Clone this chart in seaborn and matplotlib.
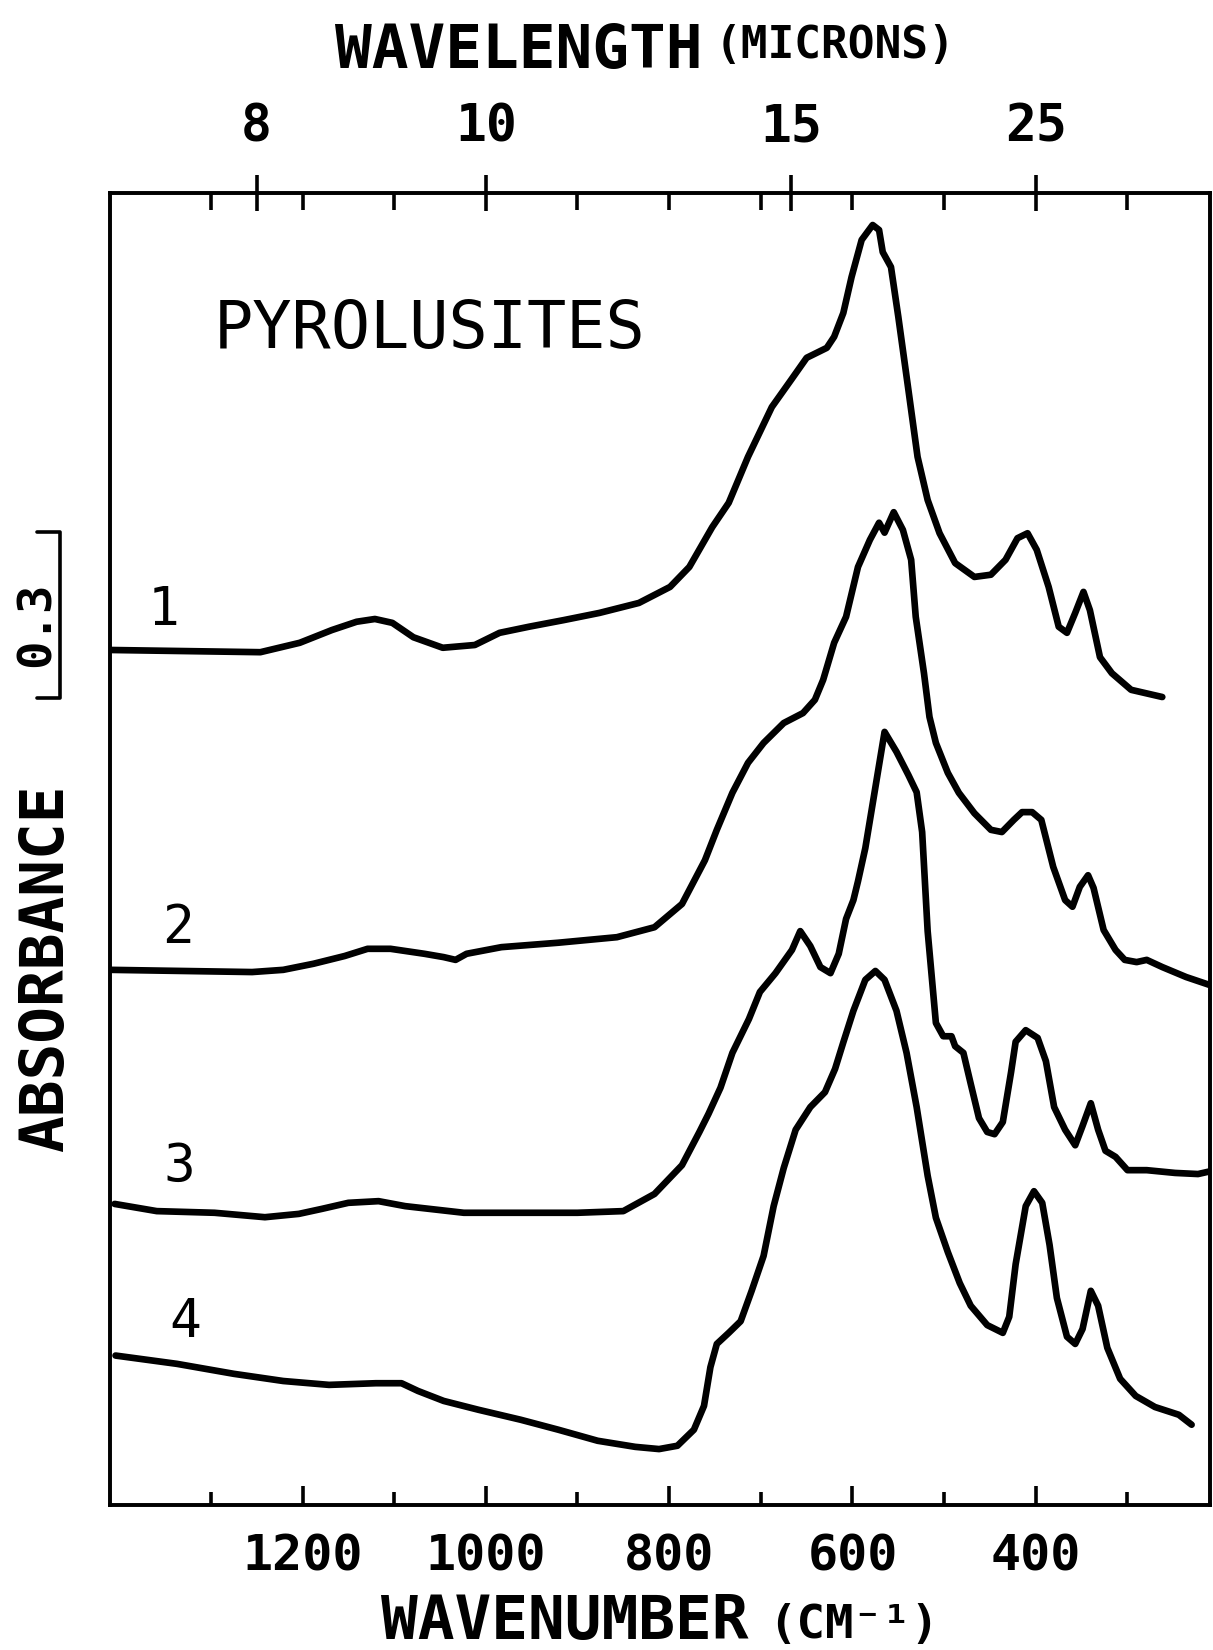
# IR absorbance spectra of pyrolusites, stacked, with wavelength scale on top
import pandas as pd
import matplotlib
matplotlib.use('Agg')
from matplotlib import pyplot as plt
import seaborn as sns

#* wavenumber (cm-1) and stacked absorbance
wn_1 = [1410, 1246, 1203, 1168, 1141, 1121, 1102, 1079, 1047, 1012, 985, 953, 915, 876, 833, 799, 778, 753, 735, 714,
        688, 667, 650, 628, 620, 610, 601, 590, 578, 571, 567, 558, 550, 539, 529, 518, 505, 488, 467, 449,
        433, 420, 409, 399, 386, 375, 366, 357, 348, 341, 330, 317, 296, 262]
abs_1 = [1.545, 1.541, 1.558, 1.581, 1.596, 1.601, 1.594, 1.568, 1.549, 1.554, 1.576, 1.587, 1.599, 1.612, 1.630, 1.659, 1.695, 1.767, 1.811, 1.894,
         1.984, 2.033, 2.073, 2.091, 2.111, 2.154, 2.219, 2.286, 2.313, 2.304, 2.264, 2.237, 2.147, 2.015, 1.894, 1.816, 1.756, 1.702, 1.677, 1.681,
         1.708, 1.747, 1.756, 1.726, 1.659, 1.587, 1.576, 1.612, 1.650, 1.617, 1.532, 1.503, 1.473, 1.460]

wn_2 = [1410, 1255, 1221, 1188, 1154, 1129, 1104, 1067, 1046, 1033, 1021, 983, 921, 857, 816, 786, 767, 761, 748, 731,
        714, 697, 675, 654, 641, 632, 620, 607, 594, 581, 571, 565, 555, 545, 536, 531, 522, 516, 509, 496,
        484, 467, 449, 437, 424, 415, 404, 394, 381, 368, 360, 352, 343, 337, 326, 313, 303, 290, 279, 262, 236, 211]
abs_2 = [0.967, 0.963, 0.967, 0.978, 0.992, 1.005, 1.005, 0.996, 0.990, 0.985, 0.996, 1.008, 1.016, 1.026, 1.044, 1.086, 1.146, 1.165, 1.220, 1.287,
         1.341, 1.377, 1.413, 1.431, 1.455, 1.491, 1.558, 1.605, 1.695, 1.744, 1.775, 1.757, 1.794, 1.762, 1.708, 1.605, 1.503, 1.424, 1.377, 1.323,
         1.287, 1.250, 1.220, 1.216, 1.238, 1.252, 1.252, 1.238, 1.153, 1.093, 1.081, 1.117, 1.138, 1.115, 1.039, 1.003, 0.985, 0.981, 0.985, 0.972, 0.954, 0.940]

wn_3 = [1405, 1359, 1296, 1241, 1204, 1179, 1150, 1117, 1088, 1024, 962, 900, 850, 816, 786, 767, 757, 744, 731, 713,
        701, 684, 666, 657, 646, 635, 624, 615, 607, 599, 594, 586, 577, 565, 552, 539, 530, 524, 518, 509,
        501, 492, 488, 479, 471, 462, 453, 445, 436, 427, 422, 411, 398, 389, 380, 368, 357, 349, 340, 332,
        324, 313, 300, 279, 248, 223, 207]
abs_3 = [0.544, 0.531, 0.528, 0.520, 0.526, 0.535, 0.546, 0.549, 0.540, 0.528, 0.528, 0.528, 0.531, 0.562, 0.614, 0.674, 0.707, 0.754, 0.817, 0.878,
         0.927, 0.961, 1.003, 1.037, 1.010, 0.972, 0.961, 0.996, 1.059, 1.093, 1.127, 1.187, 1.277, 1.397, 1.361, 1.319, 1.288, 1.216, 1.037, 0.871,
         0.847, 0.847, 0.829, 0.817, 0.761, 0.699, 0.674, 0.670, 0.692, 0.782, 0.837, 0.858, 0.844, 0.802, 0.719, 0.678, 0.650, 0.685, 0.726, 0.678,
         0.640, 0.629, 0.605, 0.605, 0.600, 0.598, 0.604]

wn_4 = [1404, 1337, 1275, 1221, 1171, 1120, 1092, 1074, 1046, 1008, 962, 921, 878, 837, 811, 791, 773, 762, 755, 748,
        735, 722, 710, 697, 686, 675, 662, 646, 630, 619, 610, 599, 586, 575, 565, 552, 541, 530, 518, 509,
        496, 483, 471, 453, 436, 429, 422, 411, 402, 393, 385, 377, 366, 357, 349, 340, 332, 322, 308, 291,
        270, 244, 230]
abs_4 = [0.270, 0.255, 0.237, 0.224, 0.217, 0.220, 0.220, 0.206, 0.188, 0.172, 0.154, 0.136, 0.116, 0.105, 0.101, 0.107, 0.136, 0.179, 0.249, 0.291,
         0.311, 0.332, 0.387, 0.450, 0.540, 0.609, 0.678, 0.719, 0.746, 0.788, 0.836, 0.893, 0.949, 0.965, 0.949, 0.893, 0.817, 0.719, 0.595, 0.519,
         0.457, 0.401, 0.360, 0.325, 0.311, 0.340, 0.435, 0.540, 0.567, 0.546, 0.470, 0.374, 0.304, 0.291, 0.318, 0.387, 0.360, 0.284, 0.228, 0.197,
         0.177, 0.163, 0.145]

sample_names = ['1', '2', '3', '4']
wn_major = [1200, 1000, 800, 600, 400]
wn_minor = [1300, 1100, 900, 700, 500, 300]
microns = [8, 10, 15, 25]
top_minor = [1300, 1200, 1100, 900, 800, 700, 600, 500, 300]
scale_bar = 0.3

frames = []
for name, w, a in zip(sample_names, [wn_1, wn_2, wn_3, wn_4], [abs_1, abs_2, abs_3, abs_4]):
    frames.append(pd.DataFrame({'wavenumber': w, 'absorbance': a, 'sample': name}))
spectra = pd.concat(frames, ignore_index=True)

sns.set_style('ticks')
plt.rcParams['font.family'] = ['DejaVu Sans Mono']
plt.rcParams['axes.edgecolor'] = 'black'
plt.rcParams['xtick.color'] = 'black'
plt.rcParams['xtick.labelcolor'] = 'black'
plt.rcParams['text.color'] = 'black'
plt.rcParams['axes.linewidth'] = 2.6

fig = plt.figure(figsize=(12.13, 16.5), dpi=100)
ax = fig.add_axes([0.0907, 0.0879, 0.9068, 0.7952])

sns.lineplot(data=spectra, x='wavenumber', y='absorbance', hue='sample', palette=['black'] * 4,
             estimator=None, legend=False, linewidth=4.8, solid_capstyle='round', solid_joinstyle='round', ax=ax)
ax.set_xlim(1410, 210)
ax.set_ylim(0, 2.371)
ax.set_xlabel('')
ax.set_ylabel('')
ax.set_yticks([])
ax.set_xticks(wn_major)
ax.set_xticklabels([str(w) for w in wn_major], fontweight='bold', fontsize=36)
ax.set_xticks(wn_minor, minor=True)
ax.tick_params(axis='x', which='major', direction='in', length=14, width=2.6, pad=20)
ax.tick_params(axis='x', which='minor', direction='in', length=9.5, width=2.6)

# wavelength scale on top
ax2 = ax.twiny()
ax2.set_xlim(ax.get_xlim())
ax2.set_xticks([10000 / m for m in microns])
ax2.set_xticklabels([str(m) for m in microns], fontweight='bold', fontsize=37)
ax2.set_xticks(top_minor, minor=True)
ax2.tick_params(axis='x', which='major', direction='inout', length=26, width=2.6, pad=16)
ax2.tick_params(axis='x', which='minor', direction='in', length=12, width=2.6)
ax2.set_yticks([])

# sample numbers and title inside the frame
label_pos = {'1': (1352, 1.617), '2': (1336, 1.043), '3': (1334, 0.611), '4': (1328, 0.331)}
for name, (x, y) in label_pos.items():
    ax.text(x, y, name, fontsize=38, ha='center', va='center')
ax.text(1297, 2.091, 'PYROLUSITES', fontsize=47, ha='left', va='baseline')

# 0.3 absorbance scale bar left of the frame
bar_bottom = 1.458
ax.plot([1490, 1465, 1465, 1490], [bar_bottom, bar_bottom, bar_bottom + scale_bar, bar_bottom + scale_bar],
        color='black', lw=2.6, clip_on=False)
ax.text(1490, 1.592, str(scale_bar), rotation=90, fontsize=34, fontweight='bold',
        ha='center', va='center')

fig.text(0.276, 0.9588, 'WAVELENGTH', fontsize=44, fontweight='bold', ha='left', va='baseline')
fig.text(0.5894, 0.9648, '(MICRONS)', fontsize=32, fontweight='bold', ha='left', va='baseline')
fig.text(0.314, 0.0065, 'WAVENUMBER', fontsize=44, fontweight='bold', ha='left', va='baseline')
fig.text(0.633, 0.0075, '(CM⁻¹)', fontsize=34, fontweight='bold', ha='left', va='baseline')
fig.text(0.0387, 0.4133, 'ABSORBANCE', fontsize=44, fontweight='bold', rotation=90, ha='center', va='center')

fig.savefig('out.png', dpi=100)
